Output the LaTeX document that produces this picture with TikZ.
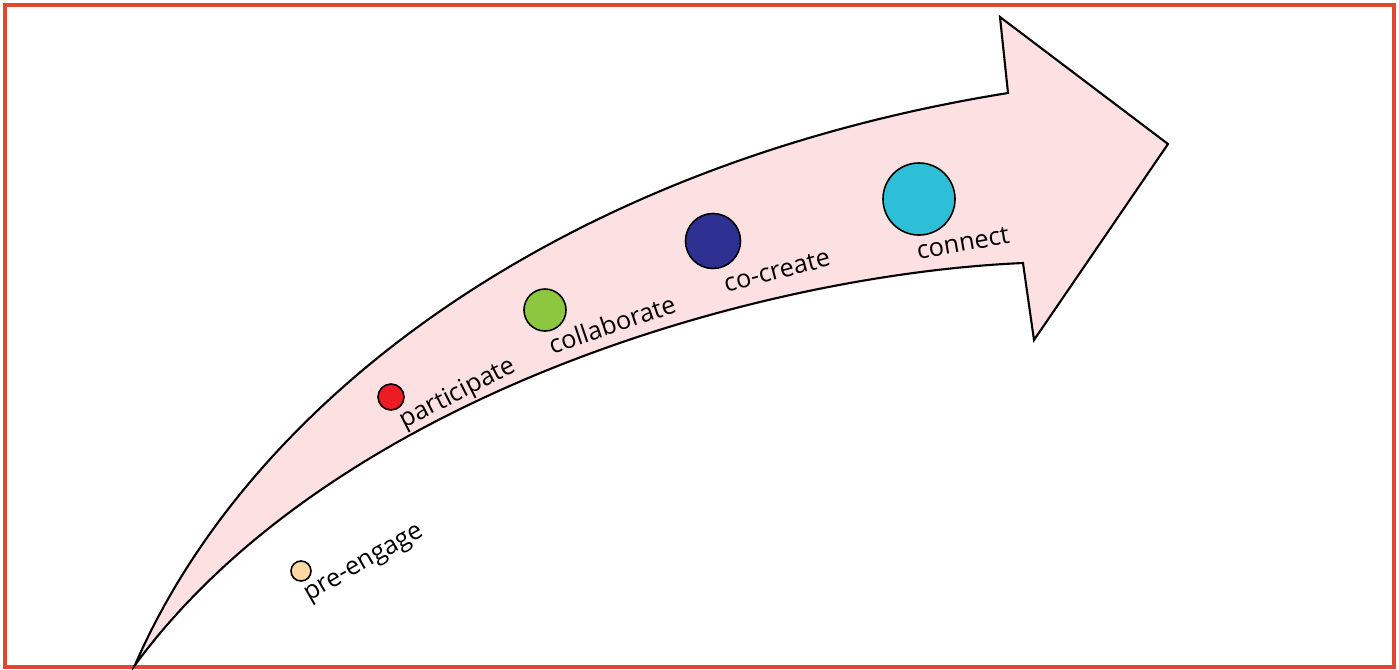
\documentclass[tikz,border=0pt]{standalone}
\usepackage{fontspec}
\setmainfont{Open Sans}
\usetikzlibrary{calc}
\definecolor{framered}{RGB}{226,70,50}
\definecolor{arrowpink}{RGB}{253,225,226}
\definecolor{stagepeach}{RGB}{253,216,160}
\definecolor{stagered}{RGB}{237,28,36}
\definecolor{stagegreen}{RGB}{141,198,63}
\definecolor{stagenavy}{RGB}{46,49,146}
\definecolor{stagecyan}{RGB}{46,191,216}

\begin{document}
\begin{tikzpicture}[x=0.01cm,y=-0.01cm,
  dot/.style={circle,draw=black,line width=0.45pt,inner sep=0pt},
  stage/.style={font=\fontsize{7.2}{8}\selectfont,inner sep=0pt}]
\useasboundingbox (0,0) rectangle (1399,669);
\draw[framered, line width=0.9pt] (5,5) rectangle (1394,667);
% the big arrow
\draw[fill=arrowpink, line width=0.6pt, line join=miter]
  (135,665) .. controls (250,400) and (560,165) .. (1008,93)
  -- (1000,17) -- (1168,144) -- (1034,340) -- (1023,263)
  .. controls (750,275) and (330,400) .. cycle;
% stages
\node[dot,fill=stagepeach,minimum size=0.2cm] (pre) at (301,571) {};
\node[dot,fill=stagered,minimum size=0.26cm] (part) at (391,397) {};
\node[dot,fill=stagegreen,minimum size=0.42cm] (coll) at (545,310) {};
\node[dot,fill=stagenavy,minimum size=0.55cm] (cocr) at (713,241) {};
\node[dot,fill=stagecyan,minimum size=0.72cm] (conn) at (919,199) {};
\path (365,565) node[stage,rotate=30] (prelabel) {pre-engage};
\path (458,394) node[stage,rotate=27] (partlabel) {participate};
\path (612,324) node[stage,rotate=18.7] (colllabel) {collaborate};
\path (777,271) node[stage,rotate=14.7] (cocrlabel) {co-create};
\path (963,243) node[stage,rotate=9.9] (connlabel) {connect};
\end{tikzpicture}
\end{document}
